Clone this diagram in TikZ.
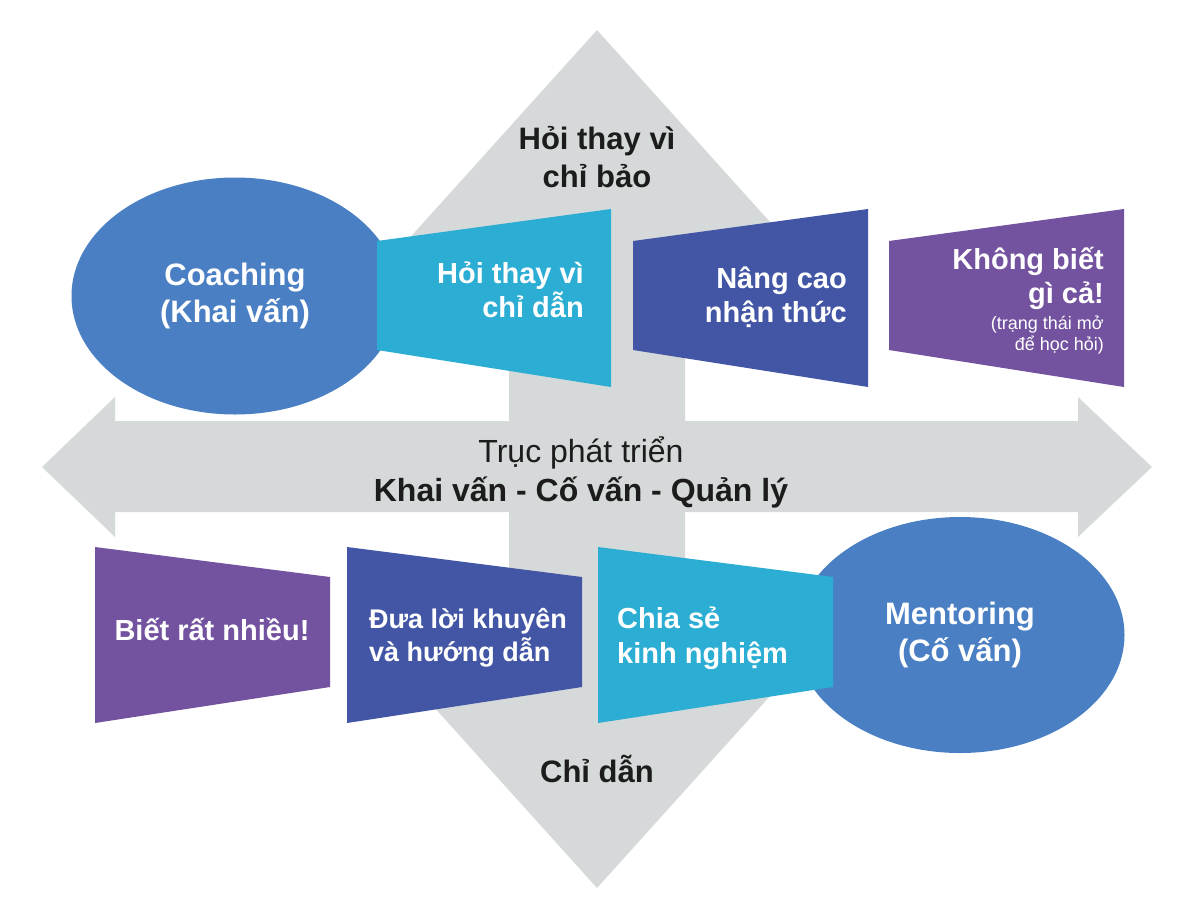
\documentclass[tikz,border=0pt]{standalone}
\usepackage{fontspec}
\setmainfont{Liberation Sans}
\usepackage{xcolor}
\usetikzlibrary{shapes.geometric}

\definecolor{axisgray}{HTML}{D6D9D9}
\definecolor{ovalblue}{HTML}{4A80C3}
\definecolor{trapcyan}{HTML}{2CADD3}
\definecolor{trapblue}{HTML}{4356A6}
\definecolor{trappurple}{HTML}{73529F}
\definecolor{labelblack}{HTML}{1C1C1C}

\begin{document}
\begin{tikzpicture}[
    x=1pt, y=-1pt,
    every node/.style={inner sep=0pt},
    oval/.style={ellipse, fill=ovalblue, text=white, align=center, font=\bfseries\fontsize{31}{37}\selectfont},
    traptext/.style={text=white, font=\bfseries\fontsize{29}{34}\selectfont},
    axislabel/.style={text=labelblack, align=center, font=\bfseries\fontsize{31}{38}\selectfont}
]

\useasboundingbox (0,0) rectangle (1200,922);

% Arrows
\fill[axisgray] (597,30) -- (807,263) -- (685,263) -- (685,655) -- (807,655) -- (597,888)
    -- (387,655) -- (509,655) -- (509,263) -- (387,263) -- cycle;
\fill[axisgray] (42,467) -- (115,397) -- (115,421) -- (1078,421) -- (1078,397) -- (1152,467)
    -- (1078,537) -- (1078,512) -- (115,512) -- (115,537) -- cycle;

% Ovals
\node[oval, minimum width=327pt, minimum height=237pt] (coaching) at (235,296) {Coaching\\(Khai vấn)};
\node[oval, minimum width=329pt, minimum height=236pt] (mentoring) at (960,635) {Mentoring\\(Cố vấn)};

% Trapezoids, top row
\fill[trapcyan] (377,241) -- (611,209) -- (611,387) -- (377,350) -- cycle;
\fill[trapblue] (633,241) -- (868,209) -- (868,387) -- (633,350) -- cycle;
\fill[trappurple] (889,241) -- (1124,209) -- (1124,387) -- (889,350) -- cycle;

% Trapezoids, bottom row
\fill[trappurple] (95,547) -- (330,577) -- (330,687) -- (95,723) -- cycle;
\fill[trapblue] (347,547) -- (582,577) -- (582,687) -- (347,723) -- cycle;
\fill[trapcyan] (598,547) -- (833,577) -- (833,687) -- (598,723) -- cycle;

% Axis labels
\node[axislabel] (askaxis) at (597,157) {Hỏi thay vì\\chỉ bảo};
\node[axislabel, font=\fontsize{32}{39}\selectfont] (devaxis) at (581,472) {Trục phát triển\\\textbf{Khai vấn - Cố vấn - Quản lý}};
\node[axislabel, anchor=base] (tellaxis) at (597,782) {Chỉ dẫn};

% Box labels
\node[traptext, align=right, anchor=east] (ask) at (584,290) {Hỏi thay vì\\chỉ dẫn};
\node[traptext, align=right, anchor=east] (aware) at (847,297) {Nâng cao\\nhận thức};
\node[traptext, align=right, anchor=east] (unknown) at (1104,278) {Không biết\\gì cả!~};
\node[traptext, font=\fontsize{18}{21}\selectfont, align=right, anchor=east] (unknownnote) at (1104,335) {(trạng thái mở\\để học hỏi)};
\node[traptext, anchor=base] (knowmuch) at (212,640) {Biết rất nhiều!};
\node[traptext, font=\bfseries\fontsize{27}{33}\selectfont, align=left, anchor=west] (advice) at (369,638) {Đưa lời khuyên\\và hướng dẫn};
\node[traptext, font=\bfseries\fontsize{29}{35}\selectfont, align=left, anchor=west] (share) at (617,638) {Chia sẻ\\kinh nghiệm};

\end{tikzpicture}
\end{document}
